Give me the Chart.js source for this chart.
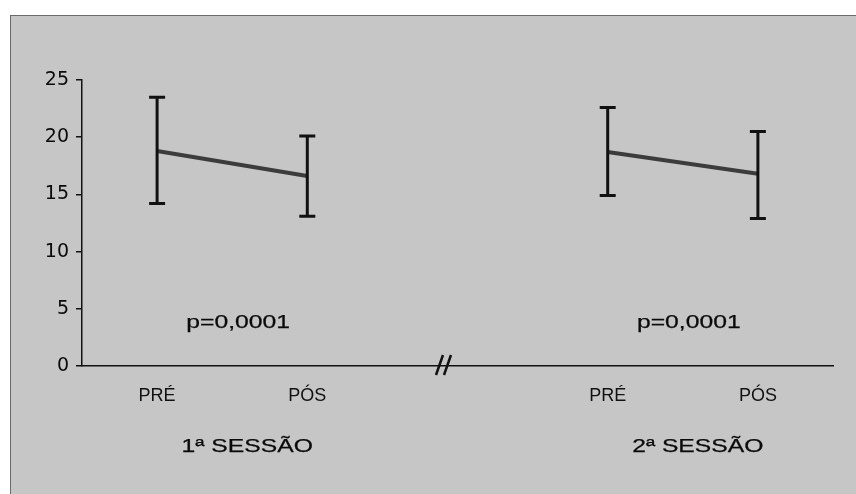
<!DOCTYPE html>
<html>
<head>
<meta charset="utf-8">
<script src="https://cdn.jsdelivr.net/npm/chart.js@4.4.1/dist/chart.umd.min.js"></script>
<style>
    html, body { margin: 0; padding: 0; background: #ffffff; }
    #wrap { width: 856px; height: 494px; position: relative; }
</style>
</head>
<body>
<div id="wrap"><canvas id="myChart" width="856" height="494"></canvas></div>
<script>
var sessionLabels = ['1ª SESSÃO', '2ª SESSÃO'];
var timeLabels = ['PRÉ', 'PÓS'];
var pValues = ['p=0,0001', 'p=0,0001'];

// mean and error bar ends, one array per session
var mean1 = [18.8, 16.6];
var upper1 = [23.5, 20.1];
var lower1 = [14.2, 13.1];
var mean2 = [18.7, 16.8];
var upper2 = [22.6, 20.5];
var lower2 = [14.9, 12.9];

var yTicks = [0, 5, 10, 15, 20, 25];

var means = [mean1, mean2];
var uppers = [upper1, upper2];
var lowers = [lower1, lower2];

// x position of a point: sessions are separated by a gap (axis break)
function xPos(s, i) {
    return s * 3 + i + 1;
}

function toPoints(s) {
    var pts = [];
    for (var i = 0; i < means[s].length; i++) {
        pts.push({ x: xPos(s, i), y: means[s][i] });
    }
    return pts;
}

var xTickValues = [];
var xTickNames = {};
for (var s = 0; s < sessionLabels.length; s++) {
    for (var i = 0; i < timeLabels.length; i++) {
        xTickValues.push(xPos(s, i));
        xTickNames[xPos(s, i)] = timeLabels[i];
    }
}

var panelPlugin = {
    id: 'panel',
    beforeDraw: function (chart) {
        var ctx = chart.ctx;
        ctx.save();
        ctx.fillStyle = '#ffffff';
        ctx.fillRect(0, 0, chart.width, chart.height);
        ctx.fillStyle = '#c6c6c6';
        ctx.fillRect(10, 15, chart.width - 10, chart.height - 15);
        ctx.strokeStyle = '#6a6a6a';
        ctx.lineWidth = 1;
        ctx.beginPath();
        ctx.moveTo(10, 15.5);
        ctx.lineTo(chart.width, 15.5);
        ctx.moveTo(10.5, 15);
        ctx.lineTo(10.5, chart.height);
        ctx.stroke();
        ctx.restore();
    }
};

var errorBarPlugin = {
    id: 'errorBars',
    afterDatasetsDraw: function (chart) {
        var ctx = chart.ctx;
        var xs = chart.scales.x;
        var ys = chart.scales.y;
        ctx.save();
        ctx.strokeStyle = '#111111';
        ctx.lineWidth = 3;
        for (var s = 0; s < means.length; s++) {
            for (var i = 0; i < means[s].length; i++) {
                var px = xs.getPixelForValue(xPos(s, i));
                var top = ys.getPixelForValue(uppers[s][i]);
                var bot = ys.getPixelForValue(lowers[s][i]);
                ctx.beginPath();
                ctx.moveTo(px, top);
                ctx.lineTo(px, bot);
                ctx.moveTo(px - 8, top);
                ctx.lineTo(px + 8, top);
                ctx.moveTo(px - 8, bot);
                ctx.lineTo(px + 8, bot);
                ctx.stroke();
            }
        }
        ctx.restore();
    }
};

var textPlugin = {
    id: 'texts',
    afterDraw: function (chart) {
        var ctx = chart.ctx;
        var xs = chart.scales.x;
        var ys = chart.scales.y;
        var area = chart.chartArea;

        // scanned text is wide and a bit heavy
        function stretched(txt, x, y) {
            ctx.save();
            ctx.translate(x, y);
            ctx.scale(1.3, 1);
            ctx.fillText(txt, 0, 0);
            ctx.strokeText(txt, 0, 0);
            ctx.restore();
        }

        ctx.save();
        ctx.fillStyle = '#0a0a0a';
        ctx.strokeStyle = '#0a0a0a';
        ctx.lineWidth = 0.25;
        ctx.font = '19px "Liberation Sans", Arial, sans-serif';
        ctx.textAlign = 'center';
        ctx.textBaseline = 'middle';
        for (var s = 0; s < sessionLabels.length; s++) {
            stretched(pValues[s], xs.getPixelForValue(s * 3 + 1.54), ys.getPixelForValue(3.8));
            stretched(sessionLabels[s], xs.getPixelForValue(s * 3 + 1.6), area.bottom + 81);
        }

        // axis break mark
        var bx = xs.getPixelForValue(2.91);
        var by = area.bottom;
        ctx.strokeStyle = '#111111';
        ctx.lineWidth = 2.5;
        ctx.beginPath();
        ctx.moveTo(bx - 8, by + 9);
        ctx.lineTo(bx - 1, by - 11);
        ctx.moveTo(bx, by + 9);
        ctx.lineTo(bx + 7, by - 11);
        ctx.stroke();
        ctx.restore();
    }
};

var ctx = document.getElementById('myChart').getContext('2d');
var chart = new Chart(ctx, {
    type: 'line',
    data: {
        datasets: [{
            label: sessionLabels[0],
            data: toPoints(0),
            borderColor: '#3c3c3c',
            borderWidth: 4,
            pointRadius: 0
        }, {
            label: sessionLabels[1],
            data: toPoints(1),
            borderColor: '#3c3c3c',
            borderWidth: 4,
            pointRadius: 0
        }]
    },
    options: {
        responsive: false,
        animation: false,
        layout: { padding: { left: 0, top: 80, right: 23, bottom: 88 } },
        plugins: {
            legend: { display: false },
            tooltip: { enabled: false }
        },
        scales: {
            x: {
                type: 'linear',
                min: 0.5,
                max: 5.5,
                afterBuildTicks: function (scale) {
                    scale.ticks = xTickValues.map(function (v) { return { value: v }; });
                },
                afterFit: function (scale) { scale.height = 40; },
                grid: { display: false, drawTicks: false },
                border: { display: true, color: '#111111', width: 1.5 },
                ticks: {
                    autoSkip: false,
                    maxRotation: 0,
                    padding: 19,
                    color: '#111111',
                    font: { family: '"Liberation Sans", Arial, sans-serif', size: 18 },
                    callback: function (v) { return xTickNames[v] || ''; }
                }
            },
            y: {
                min: 0,
                max: 25,
                afterBuildTicks: function (scale) {
                    scale.ticks = yTicks.map(function (v) { return { value: v }; });
                },
                afterFit: function (scale) { scale.width = 82; },
                grid: { drawOnChartArea: false, tickLength: 6, color: '#111111', lineWidth: 1.5 },
                border: { display: true, color: '#111111', width: 1.5 },
                ticks: {
                    padding: 7,
                    color: '#0a0a0a',
                    font: { family: '"DejaVu Sans", sans-serif', size: 19 }
                }
            }
        }
    },
    plugins: [panelPlugin, errorBarPlugin, textPlugin]
});
</script>
</body>
</html>
